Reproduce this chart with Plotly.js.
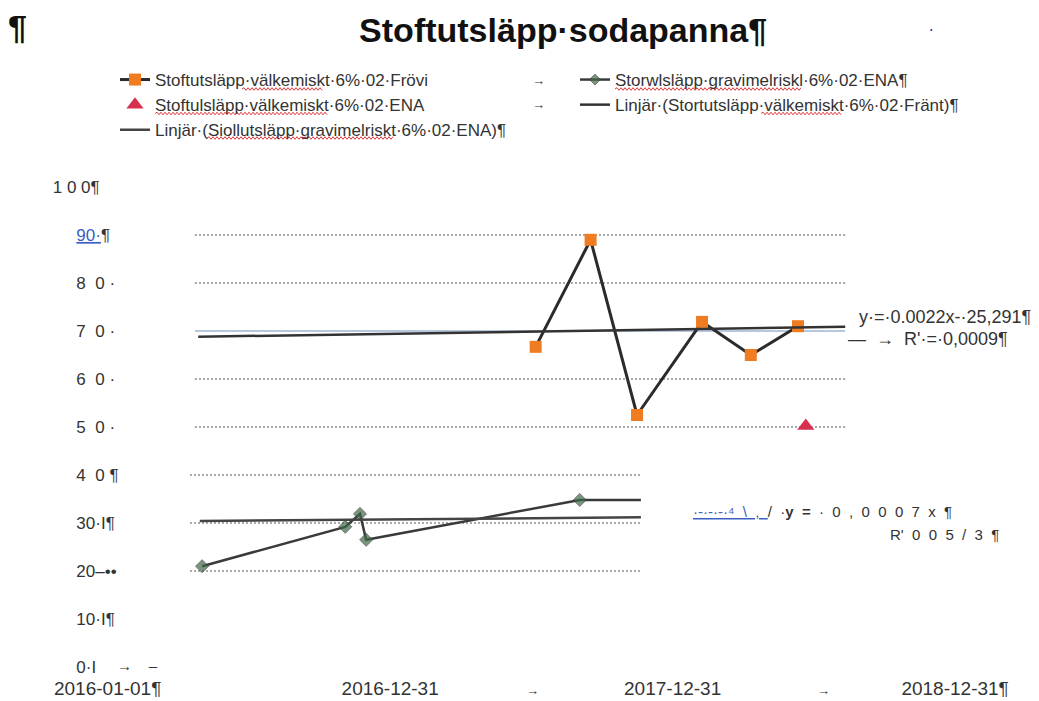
<!DOCTYPE html>
<html><head><meta charset="utf-8">
<script src="https://cdn.plot.ly/plotly-3.0.1.min.js"></script>
<style>html,body{margin:0;padding:0;background:#fff}#chart{width:1039px;height:701px}</style>
</head><body><div id="chart"></div>
<script>
// Stoftutsläpp välkemiskt 6% O2 Frövi
const froviDates = ['2017-07-07','2017-09-16','2017-11-15','2018-02-07','2018-04-11','2018-06-11'];
const froviValues = [66.7, 89.0, 52.5, 71.9, 65.0, 71.0];
// Stoftutsläpp gravimetriskt 6% O2 ENA
const enaGravDates = ['2016-05-02','2016-11-03','2016-11-22','2016-11-30','2017-09-02','2017-11-20'];
const enaGravValues = [21.0, 29.2, 31.9, 26.5, 34.8, 34.8];
// Stoftutsläpp välkemiskt 6% O2 ENA
const enaKemDates = ['2018-06-21'];
const enaKemValues = [50.2];
// Linjär trend (Frövi)
const froviTrendDates = ['2016-04-27','2018-08-11'];
const froviTrendValues = [68.8, 70.9];
// Linjär trend (gravimetriskt ENA)
const enaTrendDates = ['2016-04-29','2017-11-20'];
const enaTrendValues = [30.4, 31.2];

const seriesNames = [
  'Stoftutsläpp·välkemiskt·6%·02·Frövi',
  'Storwlsläpp·gravimelriskl·6%·02·ENA¶',
  'Stoftulsläpp·välkemiskt·6%·02·ENA',
  'Linjär·(Stortutsläpp·välkemiskt·6%·02·Fränt)¶',
  'Linjär·(Siollutsläpp·gravimelriskt·6%·02·ENA)¶'
];

const NB = '\u00a0';
const xTickVals = ['2016-01-01','2016-12-31','2017-12-31','2018-12-31'];
const xTickText = ['2016-01-01¶', '2016-12-31', '2017-12-31', '2018-12-31¶'];
const yTickVals = [0,10,20,30,40,50,60,70,80,90,100];
const yTickText = ['0·I', '10·I¶', '20–••', '30·I¶', '4 0 ¶', '5 0 ·', '6 0 ·', '7 0 ·', '8 0 ·', '90·¶', '1 0 0¶'];
const gridUpper = [50,60,70,80,90];
const gridLower = [20,30,40];

// plot area in pixels
const L = 45, R = 1000, T = 187, B = 667, W = 1039, H = 701;
const px = v => (v - L) / (R - L);
const py = v => (B - v) / (B - T);

const FONT = 'Liberation Sans, Arial, sans-serif';

const traces = [
  {x: froviDates, y: froviValues, name: seriesNames[0], type: 'scatter', mode: 'lines+markers', legend: 'legend',
   line: {color: '#2b2b2b', width: 3}, marker: {symbol: 'square', size: 12, color: '#f07c22', line: {width: 0}}},
  {x: enaGravDates, y: enaGravValues, name: seriesNames[1], type: 'scatter', mode: 'lines+markers', legend: 'legend2',
   line: {color: '#3a3a3a', width: 2.5}, marker: {symbol: 'diamond', size: [10,10,10,10,10,0], color: '#3f6b48'}},
  {x: enaKemDates, y: enaKemValues, name: seriesNames[2], type: 'scatter', mode: 'markers', legend: 'legend',
   marker: {symbol: 'triangle-up', size: 15, color: '#d8304f'}},
  {x: froviTrendDates, y: froviTrendValues, name: seriesNames[3], type: 'scatter', mode: 'lines', legend: 'legend2',
   line: {color: '#333', width: 2.5}},
  {x: enaTrendDates, y: enaTrendValues, name: seriesNames[4], type: 'scatter', mode: 'lines', legend: 'legend',
   line: {color: '#444', width: 2.5}}
];

const shapes = [];
gridUpper.forEach(v => shapes.push({type: 'line', xref: 'paper', yref: 'y', x0: px(195), x1: px(845), y0: v, y1: v,
  layer: 'below', line: {color: v === 70 ? '#9fb6d3' : '#8f8f8f', width: 1.6, dash: v === 70 ? 'solid' : '2px,2px'}}));
gridLower.forEach(v => shapes.push({type: 'line', xref: 'paper', yref: 'y', x0: px(190), x1: px(640), y0: v, y1: v,
  layer: 'below', line: {color: '#8f8f8f', width: 1.6, dash: '2px,2px'}}));

// red spell-check squiggles under legend words (pixel spans)
const ROW0 = 79, ROWP = 24.5;
function squiggle(x0, x1, row) {
  const y = ROW0 + row * ROWP + 10;
  let d = 'M' + px(x0) + ',' + py(y);
  let up = true;
  for (let x = x0 + 2; x <= x1; x += 2) { d += ' L' + px(x) + ',' + py(y + (up ? -1.3 : 1.3)); up = !up; }
  return {type: 'path', xref: 'paper', yref: 'paper', path: d, line: {color: '#e0393b', width: 1}};
}
[[242, 322, 0], [615, 802, 0], [155, 327, 1], [761, 841, 1], [207, 394, 2]].forEach(s => shapes.push(squiggle(s[0], s[1], s[2])));

const ann = (x, y, text, size, opts) => Object.assign({xref: 'paper', yref: 'paper', x: px(x), y: py(y), text: text,
  showarrow: false, xanchor: 'left', yanchor: 'middle', font: {family: FONT, size: size, color: '#333'}}, opts || {});
const S2 = NB + NB;

const annotations = [
  ann(6, 27, '<b>¶</b>', 34, {font: {family: FONT, size: 34, color: '#111'}}),
  ann(928, 30, '•', 7, {font: {family: FONT, size: 7, color: '#2020d0'}}),
  ann(530, 80, '<b>→</b>', 13),
  ann(530, 104, '<b>→</b>', 13),
  ann(524, 690, '<b>→</b>', 13),
  ann(815, 690, '<b>→</b>', 13),
  ann(115, 665, '<b>→</b>' + NB.repeat(4) + '–', 15),
  ann(857, 317, 'y·=·0.0022x-·25,291¶', 18),
  ann(846, 339, '—' + S2 + '→' + S2 + 'R\'·=·0,0009¶', 18),
  ann(691, 512, '<span style="color:#3a5fc0;text-decoration:underline">·-·-·-·⁴' + S2 + '\\' + S2 + ',' + S2 + '</span>/' + S2 + '·' +
      '<b>y' + S2 + '=</b>' + S2 + ['·', '0', ',', '0', '0', '0', '7', 'x', '¶'].join(S2), 15),
  ann(888, 534, ['R\'', '0', '0', '5', '/', '3', '¶'].join(S2), 15)
];

const yText = yTickText.map((t, i) => {
  if (i === 10) return NB + t;
  if (i === 9) return NB.repeat(6) + '<span style="color:#3a5fc0;text-decoration:underline">90·</span>¶';
  return NB.repeat(6) + t.replace(/(\d) (\d)/, '$1' + NB + NB + '$2');
});

const legendBase = {orientation: 'v', xanchor: 'left', yanchor: 'top', itemwidth: 30,
  bgcolor: 'rgba(0,0,0,0)', font: {family: FONT, size: 17, color: '#333'}, tracegroupgap: 0};

const layout = {
  width: W, height: H,
  margin: {l: L, r: W - R, t: T, b: H - B, pad: 0},
  paper_bgcolor: '#ffffff', plot_bgcolor: '#ffffff',
  font: {family: FONT, size: 15, color: '#333'},
  title: {text: 'Stoftutsläpp·sodapanna¶', x: 0.542, xanchor: 'center', y: 1 - 30 / H, yanchor: 'middle',
    font: {family: FONT, size: 34, weight: 700, color: '#111'}},
  showlegend: true,
  legend: Object.assign({}, legendBase, {x: px(115), y: py(62)}),
  legend2: Object.assign({}, legendBase, {x: px(575), y: py(62)}),
  xaxis: {type: 'date', range: ['2015-10-12', '2019-02-27'], tickmode: 'array', tickvals: xTickVals, ticktext: xTickText,
    showgrid: false, zeroline: false, showline: false, ticks: '', ticklabelstandoff: 8,
    tickfont: {family: FONT, size: 19, color: '#333'}},
  yaxis: {range: [0, 100], tickmode: 'array', tickvals: yTickVals, ticktext: yText,
    showgrid: false, zeroline: false, showline: false, ticks: '',
    ticklabelposition: 'inside', ticklabeloverflow: 'allow',
    tickfont: {family: FONT, size: 17, color: '#333'}},
  shapes: shapes,
  annotations: annotations
};

Plotly.newPlot('chart', traces, layout, {displayModeBar: false, staticPlot: true});
</script>
</body></html>
